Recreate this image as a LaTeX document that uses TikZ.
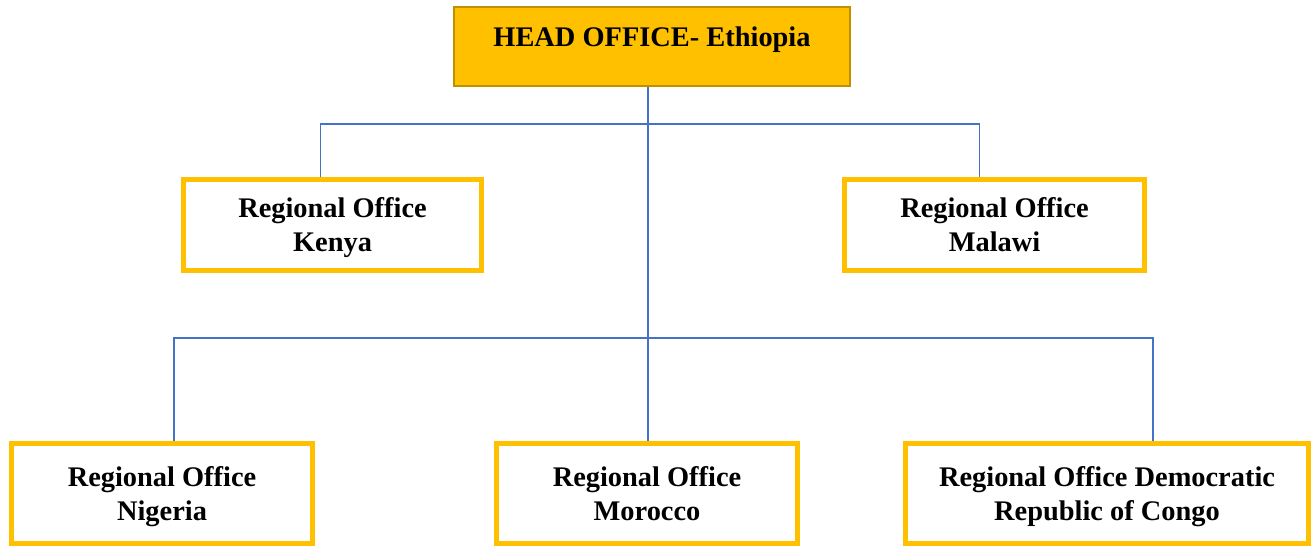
\documentclass[tikz,border=0pt]{standalone}
\usepackage{fontspec}
\setmainfont{Liberation Serif}
\definecolor{gold}{HTML}{FFC000}
\definecolor{darkgold}{HTML}{BF9000}
\definecolor{linkblue}{HTML}{4472C4}
\newcommand{\toprule}{\rule{0pt}{26pt}}
\newcommand{\botfix}{\vphantom{gy}}
\tikzset{
  txt/.style={font=\bfseries\fontsize{28.4}{34}\selectfont, align=center},
  headbox/.style={draw=darkgold, fill=gold, line width=2.5pt, minimum width=396pt, minimum height=79pt, inner sep=0pt},
  officebox/.style={txt, draw=gold, fill=white, line width=5pt, minimum height=#1, inner sep=0pt},
  conn/.style={draw=linkblue, line width=1.2pt}
}
\begin{document}
\begin{tikzpicture}[x=1pt, y=-1pt]
\useasboundingbox (0,0) rectangle (1312,546);
\node[headbox] (head) at (652,46.5) {};
\node[txt] (headtxt) at (652,40) {HEAD OFFICE- Ethiopia};
\node[officebox=91pt, minimum width=298pt] (kenya) at (332.5,225) {\toprule Regional Office\\Kenya\botfix};
\node[officebox=91pt, minimum width=300pt] (malawi) at (994.5,225) {\toprule Regional Office\\Malawi\botfix};
\node[officebox=100pt, minimum width=301pt] (nigeria) at (162,493.5) {\toprule Regional Office\\Nigeria\botfix};
\node[officebox=100pt, minimum width=301pt] (morocco) at (647,493.5) {\toprule Regional Office\\Morocco\botfix};
\node[officebox=100pt, minimum width=403pt] (congo) at (1107,493.5) {\toprule Regional Office Democratic\\Republic of Congo\botfix};
\coordinate (b1) at (648,124);
\coordinate (b2) at (648,338);
\draw[conn] ([xshift=1pt]morocco.north |- head.south) -- ([xshift=1pt]morocco.north);
\draw[conn] ([xshift=-12pt]kenya.north) |- (b1) -| ([xshift=-15pt]malawi.north);
\draw[conn] ([xshift=12pt]nigeria.north) |- (b2) -| ([xshift=46pt]congo.north);
\end{tikzpicture}
\end{document}
